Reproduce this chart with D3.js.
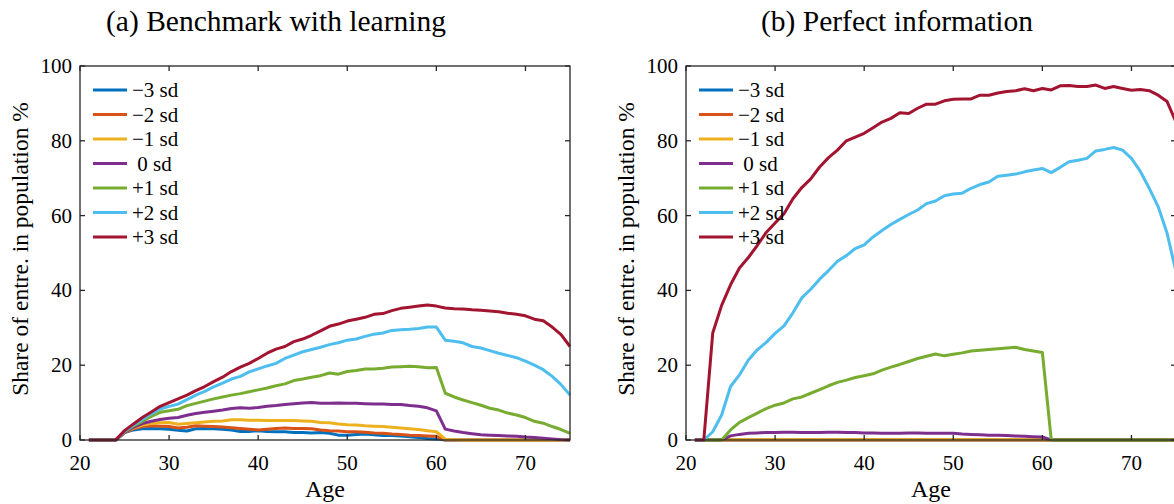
<!DOCTYPE html>
<html>
<head>
<meta charset="utf-8">
<script src="https://cdn.jsdelivr.net/npm/d3@7"></script>
<style>
  body { margin: 0; background: #fff; }
  svg { display: block; }
  text { font-family: "Liberation Serif", "DejaVu Serif", serif; fill: #000; }
</style>
</head>
<body>
<svg id="chart" width="1174" height="504"></svg>
<script>
// ages 21..75
var ages = d3.range(21, 76);

var seriesLabels = ['\u22123 sd', '\u22122 sd', '\u22121 sd', ' 0 sd', '+1 sd', '+2 sd', '+3 sd'];
var seriesColors = ['#0072BD', '#D95319', '#EDB120', '#7E2F8E', '#77AC30', '#4DBEEE', '#A2142F'];

var xTicks = [20, 30, 40, 50, 60, 70];
var yTicks = [0, 20, 40, 60, 80, 100];

var titles = ['(a) Benchmark with learning', '(b) Perfect information'];

// (a) benchmark with learning
var learnM3 = [0,0,0,0,2,2.7,3,3.1,3,2.9,2.6,2.4,3,3.1,3,2.9,2.7,2.3,2.3,2.5,2.3,2.2,2.2,2,2,1.9,2,1.8,1.3,1.3,1.5,1.6,1.4,1.2,1.2,1.1,0.9,0.7,0.4,0.3,0,0,0,0,0,0,0,0,0,0,0,0,0,0,0];
var learnM2 = [0,0,0,0,2,3,3.6,3.8,3.7,3.6,3.2,3.4,3.8,3.7,3.6,3.5,3.3,3.1,2.9,2.7,2.9,3.1,3.2,3.1,3.1,3,2.7,2.5,2.4,2.2,2.2,2.1,1.9,1.8,1.6,1.5,1.3,1.2,1.1,1,0,0,0,0,0,0,0,0,0,0,0,0,0,0,0];
var learnM1 = [0,0,0,0,2,3.2,4,4.4,4.6,4.7,4.2,4.4,4.6,4.8,5,5.1,5.4,5.4,5.3,5.3,5.2,5.2,5.2,5.2,5.1,5,4.7,4.6,4.3,4.1,4,3.8,3.7,3.6,3.4,3.2,3,2.8,2.5,2.2,0.2,0.1,0,0,0,0,0,0,0,0,0,0,0,0,0];
var learnZ = [0,0,0,0,2,3.4,4.4,5,5.5,5.8,6,6.6,7.1,7.4,7.7,8,8.4,8.6,8.5,8.7,9,9.2,9.5,9.7,9.9,10,9.8,9.8,9.9,9.8,9.8,9.7,9.6,9.6,9.5,9.5,9.2,9,8.6,7.8,2.9,2.4,2,1.7,1.4,1.3,1.2,1.1,1,0.8,0.7,0.5,0.3,0.1,0];
var learnP1 = [0,0,0,0,2.2,3.8,5,6.3,7.4,7.8,8.2,9.2,9.8,10.4,11,11.5,12,12.4,12.9,13.4,13.9,14.5,15,15.9,16.3,16.8,17.2,17.9,17.6,18.3,18.6,19,19,19.2,19.5,19.6,19.7,19.6,19.3,19.4,12.5,11.5,10.7,10,9.3,8.5,8,7.2,6.7,6,5,4.5,3.6,2.8,1.8];
var learnP2 = [0,0,0,0,2.3,4,5.5,7,8.3,9,9.6,10.8,12,13,14.2,15.2,16.3,17,18.2,19,19.8,20.5,21.8,22.7,23.6,24.2,24.8,25.5,26,26.7,27,27.7,28.3,28.6,29.3,29.5,29.6,29.8,30.2,30.2,26.7,26.4,26,25,24.6,23.9,23.2,22.6,22,21.1,20,18.8,17,14.8,12];
var learnP3 = [0,0,0,0,2.5,4.3,6,7.5,9,10,11,12,13.2,14.3,15.6,16.8,18.3,19.5,20.5,21.8,23.2,24.3,25,26.3,27,28,29.2,30.4,31,31.8,32.3,32.8,33.6,33.8,34.6,35.2,35.5,35.8,36.1,35.8,35.3,35.1,35,34.8,34.7,34.5,34.3,33.9,33.6,33.2,32.3,31.9,30.2,28.2,25];

// (b) perfect information
var perfM3 = [0,0,0,0,0,0,0,0,0,0,0,0,0,0,0,0,0,0,0,0,0,0,0,0,0,0,0,0,0,0,0,0,0,0,0,0,0,0,0,0,0,0,0,0,0,0,0,0,0,0,0,0,0,0,0];
var perfM2 = [0,0,0,0,0,0,0,0,0,0,0,0,0,0,0,0,0,0,0,0,0,0,0,0,0,0,0,0,0,0,0,0,0,0,0,0,0,0,0,0,0,0,0,0,0,0,0,0,0,0,0,0,0,0,0];
var perfM1 = [0,0,0,0,0.1,0.1,0.1,0.1,0.1,0.1,0.1,0.1,0.1,0.1,0.1,0.1,0.1,0.1,0.1,0.1,0.1,0.1,0.1,0.1,0.1,0.1,0.1,0.1,0.1,0.1,0.1,0.1,0.1,0.1,0.1,0.1,0.1,0.1,0.1,0.1,0,0,0,0,0,0,0,0,0,0,0,0,0,0,0];
var perfZ = [0,0,0,0,1.1,1.5,1.8,1.9,2,2,2.1,2.1,2,2,2,2.1,2.1,2,2,1.9,1.9,1.8,1.8,1.8,1.9,1.9,1.8,1.8,1.8,1.8,1.6,1.5,1.4,1.3,1.3,1.2,1.1,1,0.9,0.8,0,0,0,0,0,0,0,0,0,0,0,0,0,0,0];
var perfP1 = [0,0,0,0,2.7,4.7,6,7.2,8.4,9.3,9.9,11,11.5,12.5,13.5,14.5,15.4,16,16.7,17.2,17.7,18.7,19.5,20.2,21,21.8,22.4,23,22.5,22.9,23.3,23.8,24,24.2,24.4,24.6,24.8,24.2,23.8,23.4,0,0,0,0,0,0,0,0,0,0,0,0,0,0,0];
var perfP2 = [0,0,2.2,6.7,14.3,17.4,21.4,24.1,26.1,28.5,30.5,34,38,40.3,43,45.3,47.8,49.3,51.2,52.2,54.3,56,57.6,59,60.3,61.5,63.2,63.9,65.3,65.8,66,67.3,68.3,69,70.5,70.8,71.1,71.7,72.2,72.6,71.5,72.9,74.4,74.8,75.3,77.3,77.7,78.2,77.5,75.3,71.8,67.3,62.4,55.3,45];
var perfP3 = [0,0,28.6,36,41.5,46,48.8,52,55.5,58,60.5,64.5,67.5,69.8,73,75.5,77.5,80,81,82,83.5,85,86,87.5,87.3,88.7,89.8,89.8,90.7,91.1,91.2,91.2,92.2,92.2,92.8,93.2,93.4,93.9,93.4,94,93.6,94.7,94.8,94.5,94.5,94.9,94,94.5,94,93.5,93.7,93.4,92.2,90.5,85];

var panelA = [learnM3, learnM2, learnM1, learnZ, learnP1, learnP2, learnP3];
var panelB = [perfM3, perfM2, perfM1, perfZ, perfP1, perfP2, perfP3];

var svg = d3.select('#chart');
svg.append('rect').attr('width', 1174).attr('height', 504).style('fill', '#fff');

var AXIS_COLOR = '#262626';
var TICK_LEN = 5;

drawPanel(svg, 80, panelA, titles[0], 276);
drawPanel(svg, 686, panelB, titles[1], 897);

function drawPanel(svg, left, panel, title, titleX) {
    var right = left + 490;
    var top = 66;
    var bottom = 440;

    var x = d3.scaleLinear().domain([20, 75]).range([left, right]);
    var y = d3.scaleLinear().domain([0, 100]).range([bottom, top]);

    var g = svg.append('g');

    // lines, -3 first so +3 ends on top
    var line = d3.line()
        .x(function(d, i) { return x(ages[i]); })
        .y(function(d) { return y(d); });

    panel.forEach(function(vals, k) {
        g.append('path')
        .datum(vals)
        .attr('d', line)
        .style('fill', 'none')
        .style('stroke', seriesColors[k])
        .style('stroke-width', 3)
        .style('stroke-linejoin', 'round');
    });

    // box + ticks on all sides, pointing inward
    g.append('rect')
    .attr('x', left).attr('y', top)
    .attr('width', right - left).attr('height', bottom - top)
    .style('fill', 'none')
    .style('stroke', AXIS_COLOR)
    .style('stroke-width', 1.3);

    xTicks.forEach(function(t) {
        g.append('line').attr('x1', x(t)).attr('x2', x(t)).attr('y1', bottom).attr('y2', bottom - TICK_LEN)
        .style('stroke', AXIS_COLOR).style('stroke-width', 1.3);
        g.append('line').attr('x1', x(t)).attr('x2', x(t)).attr('y1', top).attr('y2', top + TICK_LEN)
        .style('stroke', AXIS_COLOR).style('stroke-width', 1.3);
        g.append('text')
        .attr('x', x(t)).attr('y', 470)
        .attr('text-anchor', 'middle')
        .style('font-size', '21px')
        .text(t);
    });

    yTicks.forEach(function(t) {
        g.append('line').attr('x1', left).attr('x2', left + TICK_LEN).attr('y1', y(t)).attr('y2', y(t))
        .style('stroke', AXIS_COLOR).style('stroke-width', 1.3);
        g.append('line').attr('x1', right).attr('x2', right - TICK_LEN).attr('y1', y(t)).attr('y2', y(t))
        .style('stroke', AXIS_COLOR).style('stroke-width', 1.3);
        g.append('text')
        .attr('x', left - 8).attr('y', y(t) + 7)
        .attr('text-anchor', 'end')
        .style('font-size', '21px')
        .text(t);
    });

    // labels
    g.append('text')
    .attr('x', titleX).attr('y', 31)
    .attr('text-anchor', 'middle')
    .style('font-size', '29.5px')
    .text(title);

    g.append('text')
    .attr('x', (left + right) / 2).attr('y', 497)
    .attr('text-anchor', 'middle')
    .style('font-size', '24px')
    .text('Age');

    g.append('text')
    .attr('transform', 'translate(' + (left - 52) + ',249) rotate(-90)')
    .attr('text-anchor', 'middle')
    .style('font-size', '23.5px')
    .text('Share of entre. in population %');

    // legend, no box
    seriesLabels.forEach(function(lab, k) {
        var ly = 90 + k * 24.5;
        g.append('line')
        .attr('x1', left + 13).attr('x2', left + 47)
        .attr('y1', ly).attr('y2', ly)
        .style('stroke', seriesColors[k])
        .style('stroke-width', 3);
        g.append('text')
        .attr('x', left + 52).attr('y', ly + 7)
        .style('font-size', '21px')
        .style('white-space', 'pre')
        .text(lab);
    });
}
</script>
</body>
</html>
